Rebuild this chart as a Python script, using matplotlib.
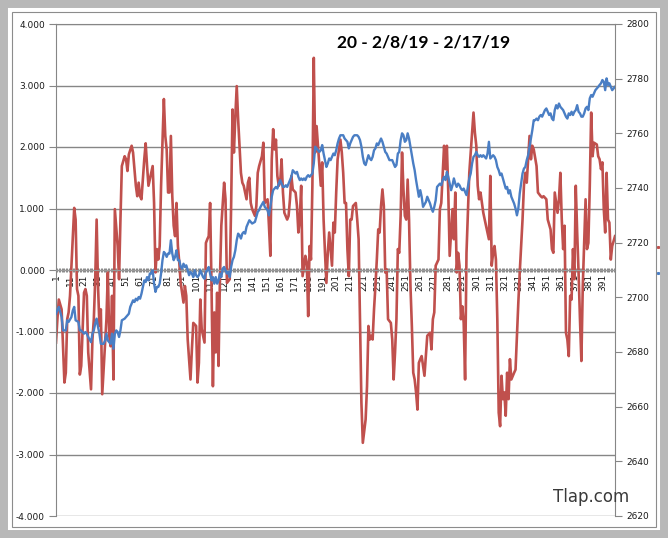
import matplotlib.pyplot as plt
from matplotlib.patches import Rectangle
from matplotlib.lines import Line2D
from matplotlib.ticker import FormatStrFormatter

title = '20 - 2/8/19 - 2/17/19'
site = 'Tlap.com'
n_days = 400

# red oscillator (left axis)
red_day = [1, 2, 3, 5, 7, 8, 9, 10, 11, 14,
           15, 16, 17, 18, 19, 21, 22, 23, 24, 26,
           27, 28, 29, 30, 31, 32, 33, 34, 35, 37,
           38, 39, 40, 41, 42, 43, 45, 46, 47, 48,
           50, 51, 52, 53, 55, 56, 58, 59, 60, 61,
           62, 64, 65, 66, 67, 69, 70, 71, 72, 73,
           74, 75, 76, 78, 79, 80, 81, 82, 83, 84,
           85, 86, 87, 88, 89, 90, 92, 93, 94, 95,
           97, 98, 99, 101, 102, 103, 104, 105, 107, 108,
           109, 110, 111, 112, 113, 114, 115, 116, 117, 118,
           119, 121, 122, 123, 125, 126, 127, 128, 129, 130,
           131, 132, 133, 134, 135, 137, 138, 139, 140, 141,
           143, 144, 145, 146, 148, 149, 150, 151, 152, 153,
           154, 155, 156, 157, 158, 159, 160, 161, 162, 163,
           164, 166, 167, 168, 169, 170, 172, 173, 174, 175,
           176, 177, 178, 179, 180, 181, 182, 183, 184, 185,
           186, 187, 188, 189, 190, 191, 192, 193, 194, 195,
           196, 197, 198, 199, 200, 201, 202, 204, 205, 206,
           207, 208, 209, 210, 211, 212, 213, 215, 216, 217,
           218, 219, 220, 222, 223, 224, 225, 226, 227, 228,
           229, 230, 231, 232, 233, 234, 235, 236, 237, 238,
           240, 241, 242, 243, 244, 245, 246, 247, 248, 249,
           250, 251, 252, 253, 254, 255, 256, 257, 258, 259,
           260, 261, 262, 264, 266, 268, 269, 270, 271, 272,
           274, 275, 276, 278, 279, 280, 281, 282, 283, 284,
           285, 286, 287, 288, 289, 290, 291, 292, 293, 294,
           296, 297, 299, 300, 301, 302, 303, 304, 306, 307,
           309, 310, 311, 312, 313, 314, 315, 316, 317, 318,
           319, 320, 321, 322, 323, 324, 325, 326, 328, 329,
           330, 331, 332, 334, 335, 336, 337, 338, 339, 340,
           341, 342, 344, 345, 347, 348, 349, 351, 352, 354,
           355, 356, 357, 359, 360, 361, 362, 363, 364, 365,
           366, 367, 368, 369, 370, 371, 372, 373, 374, 375,
           376, 377, 379, 380, 381, 382, 383, 384, 385, 387,
           388, 389, 390, 391, 392, 393, 394, 395, 396, 397,
           398, 400]
red_val = [-1.18, -0.80, -0.48, -0.64, -1.83, -1.67, -0.80, -0.69, -0.42, 1.01,
           0.82, -0.31, -0.42, -1.70, -1.56, -0.37, -0.31, -0.42, -1.34, -1.94,
           -1.13, -0.80, -0.15, 0.82, -0.26, -0.91, -0.64, -2.02, -1.62, -0.80,
           -0.04, -1.07, -1.24, -0.42, -1.78, 0.99, 0.39, -0.15, 0.82, 1.69,
           1.85, 1.80, 1.61, 1.88, 2.02, 1.91, 1.37, 1.20, 1.42, 1.20,
           1.15, 1.80, 2.06, 1.69, 1.37, 1.58, 1.69, 1.09, -0.04, 0.34,
           0.17, 0.39, 1.37, 2.78, 2.18, 1.96, 1.26, 1.26, 2.18, 1.20,
           0.72, 0.55, 1.09, 0.39, 0.12, -0.21, -0.53, -0.26, -0.42, -1.13,
           -1.78, -1.29, -0.86, -0.91, -1.83, -1.51, -0.48, -0.96, -1.18, 0.44,
           0.50, 0.55, 1.09, -0.26, -1.89, -0.69, -1.34, -0.37, -1.56, -0.15,
           0.72, 1.42, 1.15, -0.21, -0.15, 1.04, 2.61, 1.91, 2.50, 2.99,
           2.45, 2.02, 1.58, 1.42, 1.37, 1.15, 1.42, 1.50, 1.09, 0.99,
           0.88, 1.04, 1.58, 1.69, 1.85, 2.07, 1.09, 1.12, 1.15, 0.72,
           0.23, 1.80, 2.29, 1.96, 2.12, 1.53, 1.37, 1.42, 1.80, 1.26,
           0.93, 0.82, 0.88, 1.15, 1.53, 1.31, 1.26, 1.04, 0.61, 0.82,
           1.37, -0.10, 0.07, 0.23, 0.12, -0.75, 0.39, 0.17, 1.37, 3.45,
           1.91, 2.34, 2.02, 1.69, 1.37, 1.75, 0.82, 0.28, -0.21, 0.28,
           0.61, 0.34, 0.07, 0.77, 0.61, 1.26, 1.80, 2.12, 1.91, 1.58,
           1.09, 1.09, 0.34, -0.10, 0.82, 0.82, 1.04, 1.09, 0.82, 0.50,
           -0.80, -2.16, -2.81, -2.43, -1.89, -0.91, -1.13, -1.07, -1.13, -0.64,
           -0.26, 0.17, 0.66, 0.61, 1.04, 1.31, 1.04, -0.04, 0.01, -0.80,
           -0.86, -1.13, -1.78, -1.34, -0.80, 0.34, 0.28, 0.88, 1.91, 1.31,
           0.88, 0.82, 1.47, 0.82, -0.26, -0.91, -1.67, -1.78, -1.99, -2.27,
           -1.51, -1.45, -1.40, -1.72, -1.07, -1.02, -1.29, -0.80, -0.69, 0.07,
           0.17, 0.99, 1.09, 2.02, 1.64, 2.02, 1.26, 0.23, 0.61, 0.99,
           0.50, 1.26, -0.04, 0.28, 0.07, -0.80, -0.59, -0.86, -1.78, 0.28,
           1.58, 1.91, 2.56, 2.23, 2.02, 1.37, 1.15, 1.26, 0.93, 0.82,
           0.61, 0.50, 1.53, 0.07, 0.28, 0.39, 0.17, -0.80, -2.32, -2.54,
           -1.72, -2.10, -1.99, -2.37, -1.67, -2.10, -1.45, -1.78, -1.67, -1.62,
           -1.07, -0.53, -0.04, 0.82, 1.37, 1.58, 1.42, 1.80, 2.18, 1.80,
           2.02, 1.96, 1.69, 1.26, 1.20, 1.18, 1.20, 1.15, 0.82, 0.66,
           0.34, 0.28, 1.26, 0.93, 1.15, 1.58, 0.82, 0.34, 0.72, -1.02,
           -1.13, -1.40, -0.42, -0.48, 0.34, -0.15, 1.37, 0.61, -0.04, -0.80,
           -1.48, -0.26, 1.15, 0.34, 0.44, 1.37, 2.56, 1.85, 2.07, 2.04,
           1.85, 1.80, 1.64, 1.75, 0.99, 0.61, 1.58, 0.82, 0.77, 0.17,
           0.39, 0.55]

# blue price (right axis)
blue_day = [1, 2, 3, 5, 6, 8, 9, 10, 12, 13,
            14, 15, 17, 18, 19, 21, 22, 23, 24, 26,
            27, 28, 29, 30, 31, 32, 33, 35, 36, 37,
            38, 40, 41, 42, 43, 44, 45, 46, 47, 48,
            50, 51, 53, 54, 55, 56, 57, 58, 59, 60,
            61, 62, 63, 64, 65, 66, 67, 68, 69, 70,
            71, 72, 73, 74, 75, 76, 77, 78, 79, 80,
            81, 82, 83, 84, 85, 86, 87, 88, 89, 90,
            91, 92, 93, 94, 95, 96, 97, 98, 99, 100,
            101, 102, 103, 104, 105, 106, 107, 108, 109, 110,
            111, 112, 113, 114, 115, 116, 117, 118, 119, 120,
            121, 122, 123, 124, 125, 126, 127, 128, 129, 130,
            131, 132, 133, 134, 135, 136, 137, 139, 140, 141,
            143, 144, 145, 146, 147, 149, 150, 151, 152, 153,
            154, 155, 156, 157, 158, 159, 160, 161, 162, 163,
            164, 165, 166, 167, 168, 169, 170, 171, 172, 173,
            174, 175, 176, 177, 178, 179, 180, 181, 182, 183,
            184, 185, 186, 187, 188, 189, 190, 191, 192, 193,
            194, 195, 196, 197, 198, 199, 200, 201, 202, 203,
            204, 205, 206, 207, 208, 209, 210, 211, 212, 213,
            214, 216, 217, 218, 219, 220, 221, 222, 223, 224,
            225, 226, 227, 228, 229, 230, 231, 232, 233, 234,
            235, 236, 237, 238, 239, 240, 241, 242, 243, 244,
            245, 246, 247, 248, 249, 250, 251, 252, 253, 254,
            255, 256, 257, 258, 259, 260, 261, 262, 263, 265,
            266, 267, 268, 269, 270, 271, 272, 273, 275, 276,
            277, 278, 279, 280, 281, 282, 283, 284, 285, 286,
            287, 288, 289, 290, 291, 292, 293, 294, 295, 296,
            297, 298, 299, 300, 301, 302, 303, 304, 305, 306,
            307, 308, 309, 310, 311, 312, 313, 314, 315, 316,
            317, 318, 319, 320, 321, 322, 323, 324, 325, 326,
            327, 328, 329, 330, 331, 332, 333, 334, 335, 336,
            337, 338, 339, 340, 341, 342, 343, 344, 345, 346,
            347, 348, 349, 350, 351, 352, 353, 354, 355, 356,
            357, 358, 359, 360, 361, 362, 363, 364, 365, 366,
            367, 368, 369, 370, 371, 372, 373, 374, 375, 376,
            377, 378, 379, 380, 381, 382, 383, 384, 385, 386,
            387, 388, 389, 390, 391, 392, 393, 394, 395, 396,
            397, 398, 399, 400]
blue_val = [2694.0, 2695.2, 2696.5, 2692.8, 2687.9, 2687.9, 2691.6, 2691.0, 2692.8, 2695.2,
            2696.5, 2691.6, 2691.0, 2687.9, 2687.9, 2686.7, 2687.3, 2686.7, 2685.5, 2683.6,
            2686.7, 2687.9, 2690.4, 2692.2, 2689.1, 2686.7, 2683.0, 2683.0, 2684.2, 2686.7,
            2684.2, 2683.0, 2686.7, 2681.2, 2686.7, 2687.9, 2687.3, 2685.5, 2687.9, 2691.6,
            2692.2, 2692.8, 2694.0, 2696.5, 2697.7, 2698.9, 2698.3, 2699.5, 2698.9, 2700.1,
            2699.5, 2701.3, 2703.8, 2706.2, 2705.6, 2707.4, 2706.2, 2708.7, 2708.7, 2709.9,
            2705.0, 2702.0, 2703.8, 2703.8, 2705.0, 2708.7, 2713.6, 2716.6, 2716.0, 2714.8,
            2716.0, 2716.0, 2720.9, 2716.0, 2713.6, 2714.8, 2717.2, 2713.6, 2713.6, 2711.1,
            2710.5, 2712.3, 2711.1, 2711.7, 2709.9, 2708.1, 2709.3, 2708.7, 2707.4, 2709.9,
            2708.1, 2707.4, 2708.1, 2709.9, 2708.7, 2707.4, 2706.8, 2709.3, 2709.9, 2711.1,
            2708.7, 2706.2, 2707.4, 2705.0, 2707.4, 2705.0, 2706.2, 2708.7, 2707.4, 2710.5,
            2711.1, 2709.9, 2708.7, 2709.3, 2707.4, 2711.1, 2713.6, 2714.8, 2717.2, 2720.9,
            2723.3, 2722.7, 2721.5, 2723.3, 2723.9, 2723.3, 2725.8, 2728.2, 2727.6, 2727.0,
            2727.6, 2729.4, 2731.3, 2731.9, 2733.1, 2734.9, 2733.1, 2732.5, 2731.9, 2730.0,
            2733.1, 2736.8, 2739.2, 2739.8, 2740.4, 2739.8, 2741.6, 2742.9, 2741.6, 2740.4,
            2740.4, 2741.0, 2740.4, 2741.6, 2742.9, 2744.1, 2746.5, 2745.9, 2745.3, 2745.9,
            2744.1, 2742.9, 2743.5, 2742.9, 2743.5, 2742.9, 2744.1, 2744.7, 2744.1, 2744.7,
            2745.3, 2749.0, 2755.1, 2754.5, 2753.8, 2753.2, 2753.8, 2755.7, 2752.6, 2750.2,
            2747.7, 2749.0, 2750.8, 2750.2, 2751.4, 2752.6, 2752.0, 2753.8, 2756.3, 2758.1,
            2759.3, 2759.3, 2759.3, 2758.1, 2757.5, 2756.9, 2754.5, 2756.3, 2757.5, 2758.7,
            2759.3, 2759.3, 2758.7, 2757.5, 2755.1, 2751.4, 2749.0, 2748.4, 2750.2, 2752.0,
            2750.8, 2750.2, 2751.4, 2753.8, 2754.5, 2756.3, 2755.7, 2756.9, 2758.1, 2756.9,
            2755.1, 2753.2, 2752.6, 2751.4, 2750.2, 2750.2, 2750.2, 2749.0, 2747.7, 2748.4,
            2752.6, 2753.2, 2757.5, 2760.0, 2759.3, 2756.9, 2757.5, 2760.0, 2758.1, 2755.1,
            2752.0, 2749.0, 2746.5, 2742.9, 2739.8, 2736.8, 2739.2, 2736.8, 2733.1, 2734.9,
            2736.8, 2735.5, 2734.3, 2732.5, 2731.3, 2733.1, 2735.5, 2740.4, 2741.6, 2741.0,
            2742.9, 2744.1, 2742.9, 2745.9, 2744.1, 2741.6, 2739.2, 2741.0, 2743.5, 2741.6,
            2740.4, 2741.6, 2741.0, 2739.8, 2739.2, 2739.8, 2738.6, 2737.4, 2740.4, 2743.5,
            2745.3, 2749.0, 2751.4, 2752.0, 2753.2, 2752.0, 2751.4, 2752.0, 2751.4, 2752.0,
            2751.4, 2750.8, 2752.6, 2756.9, 2750.8, 2751.4, 2752.0, 2751.4, 2750.2, 2747.7,
            2746.5, 2744.7, 2745.3, 2743.5, 2741.6, 2739.8, 2740.4, 2738.0, 2739.2, 2736.8,
            2735.5, 2734.3, 2732.5, 2730.0, 2732.5, 2738.0, 2741.6, 2745.3, 2747.1, 2747.7,
            2750.2, 2752.0, 2755.1, 2758.1, 2761.2, 2764.8, 2764.8, 2765.4, 2764.8, 2766.1,
            2766.7, 2766.1, 2767.3, 2768.5, 2769.1, 2767.9, 2766.7, 2767.3, 2765.4, 2764.8,
            2768.5, 2770.3, 2769.1, 2770.9, 2769.7, 2769.1, 2768.5, 2767.3, 2766.1, 2765.4,
            2767.3, 2766.7, 2767.9, 2766.7, 2767.9, 2768.5, 2770.3, 2767.9, 2767.3, 2766.1,
            2766.1, 2767.3, 2769.1, 2769.7, 2768.5, 2772.8, 2774.0, 2773.4, 2774.6, 2775.8,
            2776.4, 2777.0, 2777.7, 2778.3, 2779.5, 2778.9, 2775.8, 2780.1, 2777.7, 2778.3,
            2777.0, 2775.8, 2776.4, 2777.0]

left_ticks = [-4, -3, -2, -1, 0, 1, 2, 3, 4]
right_ticks = [2620, 2640, 2660, 2680, 2700, 2720, 2740, 2760, 2780, 2800]

assert len(red_day) == len(red_val)
assert len(blue_day) == len(blue_val)

RED = '#C0504D'
BLUE = '#4A7EC4'
GRID = '#868686'
W, H = 668, 538

fig = plt.figure(figsize=(W / 100, H / 100), dpi=100)
fig.patch.set_facecolor('white')

# excel-like frame
fig.patches.append(Rectangle((0, 0), 1, 1, transform=fig.transFigure, fill=False,
                             edgecolor='#b8b8b8', linewidth=11.5))
fig.patches.append(Rectangle((12 / W, 11 / H), (W - 24) / W, (H - 23) / H,
                             transform=fig.transFigure, fill=False,
                             edgecolor='#8c8c8c', linewidth=0.8))

ax = fig.add_axes([56 / W, 1 - 516 / H, (615 - 56) / W, (516 - 24) / H])
ax.set_facecolor('none')
ax2 = ax.twinx()

ax.plot(red_day, red_val, color=RED, lw=1.9, solid_joinstyle='round')
ax2.plot(blue_day, blue_val, color=BLUE, lw=1.7, solid_joinstyle='round')

ax.set_xlim(1, n_days)
ax.set_ylim(-4, 4)
ax2.set_ylim(2620, 2800)

ax.set_yticks(left_ticks)
ax.yaxis.set_major_formatter(FormatStrFormatter('%.3f'))
ax2.set_yticks(right_ticks)

days = list(range(1, n_days + 1))
ax.set_xticks(days)
ax.set_xticklabels([str(d) if (d - 1) % 10 == 0 and d < n_days else '' for d in days])

ax.yaxis.grid(True, color=GRID, lw=1)
ax.set_axisbelow(True)

ax.spines['right'].set_visible(False)
for side in ['left', 'top', 'bottom']:
    ax2.spines[side].set_visible(False)
ax.spines['top'].set_color(GRID)
ax.spines['left'].set_color(GRID)
ax2.spines['right'].set_color(GRID)
ax.spines['bottom'].set_position(('data', 0))
ax.spines['bottom'].set_color('#9a9a9a')

ax.tick_params(axis='y', direction='out', length=5, color=GRID, labelsize=6.5,
               pad=3, labelcolor='#1a1a1a')
ax2.tick_params(axis='y', direction='out', length=5, color=GRID, labelsize=6.5,
                pad=3, labelcolor='#1a1a1a')
ax.tick_params(axis='x', direction='inout', length=3, width=0.7, color='#8a8a8a',
               labelsize=6.5, labelrotation=90, pad=1.5, labelcolor='#1a1a1a')

fig.text(424 / W, 1 - 42 / H, title, ha='center', va='center', fontsize=12.5,
         fontweight='bold', family='Lato', color='black')
fig.text(591 / W, 1 - 497 / H, site, ha='center', va='center', fontsize=12,
         color='#3a3a3a')

# leftover legend markers at the right edge
handles = [Line2D([], [], color=RED, marker='s', markersize=1.2, lw=0),
           Line2D([], [], color=BLUE, marker='s', markersize=1.2, lw=0)]
fig.legend(handles, ['', ''], loc='center', bbox_to_anchor=(0.985, 0.515),
           frameon=False, handlelength=0.4, handletextpad=0, labelspacing=0.9,
           borderpad=0)

fig.savefig('out.png', dpi=100)
